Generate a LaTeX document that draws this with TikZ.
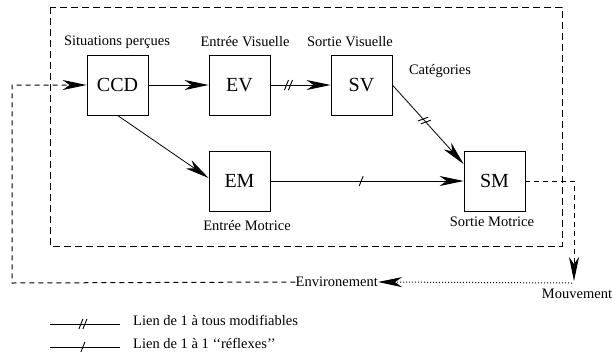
\documentclass[tikz,border=0pt]{standalone}
\usepackage{fontspec}
\setmainfont{Liberation Serif}
\usetikzlibrary{arrows.meta,decorations.markings,calc}

\tikzset{
  tip/.tip={Stealth[length=24pt, width=10pt, inset=7pt]},
  unit/.style={draw, line width=0.8pt, minimum width=61pt, minimum height=60pt,
    inner sep=0pt, font=\fontsize{20}{22}\selectfont},
  lbl/.style={inner sep=0pt, font=\fontsize{14.5}{16}\selectfont},
  link/.style={line width=0.8pt, -tip},
  plain/.style={line width=0.8pt},
  oneslash/.style={postaction={decorate}, decoration={markings,
    mark=at position #1 with {\draw[-, solid, line width=0.9pt] (-2pt,-5pt) -- (2pt,5pt);}}},
  twoslash/.style={postaction={decorate}, decoration={markings,
    mark=at position #1 with {
      \draw[-, solid, line width=0.9pt] (-4pt,-5pt) -- (0pt,5pt);
      \draw[-, solid, line width=0.9pt] (0pt,-5pt) -- (4pt,5pt);}}},
  bigdash/.style={line width=1pt, dash pattern=on 7pt off 4pt},
  loopdash/.style={line width=1pt, dash pattern=on 5pt off 4pt},
}

\begin{document}
\begin{tikzpicture}[x=1pt, y=-1pt]
  \useasboundingbox (0,0) rectangle (612,354);

  % system boundary
  \draw[bigdash] (50,7) rectangle (562,246);

  % units
  \node[unit] (CCD) at (117.5,85) {CCD};
  \node[unit] (EV)  at (239.5,85) {EV};
  \node[unit] (SV)  at (361.5,85) {SV};
  \node[unit] (EM)  at (239.5,181) {EM};
  \node[unit] (SM)  at (494.5,181) {SM};

  % captions
  \node[lbl] (tCCD) at (117,42) {Situations perçues};
  \node[lbl] (tEV)  at (245,42) {Entrée Visuelle};
  \node[lbl] (tSV)  at (350,42) {Sortie Visuelle};
  \node[lbl] (tCat) at (440,71) {Catégories};
  \node[lbl] (tEM)  at (247,226) {Entrée Motrice};
  \node[lbl] (tSM)  at (492,222) {Sortie Motrice};
  \node[lbl, anchor=east] (env) at (378,282) {Environement};
  \node[lbl] (mvt) at (577,294) {Mouvement};

  % internal links
  \draw[link] (CCD) -- (EV);
  \draw[link, twoslash=0.3] (EV) -- (SV);
  \draw[link, twoslash=0.45] (SV.east) -- ([yshift=17pt]SM.west);
  \draw[link] (CCD.south) -- ([yshift=3pt]EM.west);
  \draw[link, oneslash=0.47] (EM) -- (SM);

  % loop through the environment
  \coordinate (turn) at (574,181);
  \coordinate (mv) at (574,281);
  \coordinate (mvdot) at (572,283);
  \coordinate (bl) at (12,283);
  \coordinate (tl) at (12,85);
  \draw[loopdash, -tip] (SM.east) -- (turn) -- (mv);
  \draw[line width=1pt, dotted, -tip] (mvdot) -- (env.east);
  \draw[loopdash, -tip] (env.west) -- (bl) -- (tl) -- (CCD.west);

  % legend
  \coordinate (a1) at (50,324);
  \coordinate (b1) at (120,324);
  \coordinate (a2) at (50,347);
  \coordinate (b2) at (120,347);
  \draw[plain, twoslash=0.47] (a1) -- (b1);
  \draw[plain, oneslash=0.47] (a2) -- (b2);
  \node[lbl, anchor=west] (leg1) at (133,320) {Lien de 1 à tous modifiables};
  \node[lbl, anchor=west] (leg2) at (133,343) {Lien de 1 à 1 ‘‘réflexes’’};
\end{tikzpicture}
\end{document}
